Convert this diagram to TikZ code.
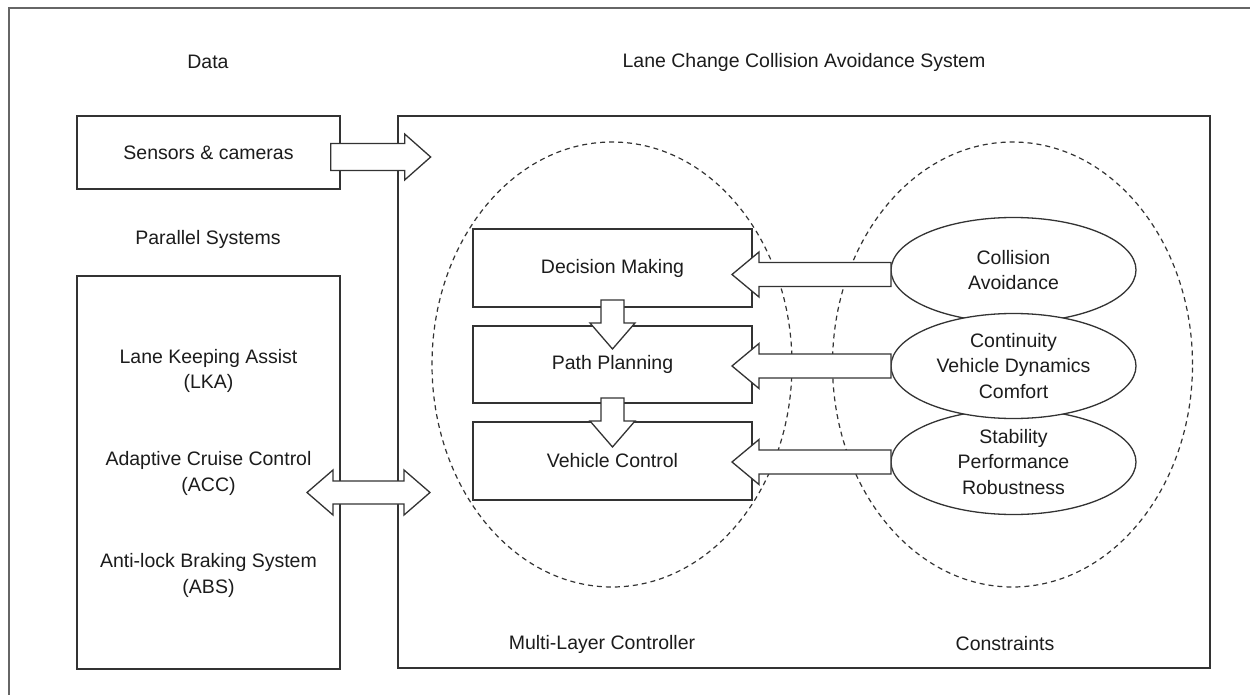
\documentclass[tikz,border=0pt]{standalone}
\usepackage{fontspec}
\setmainfont{Liberation Sans}
\usetikzlibrary{shapes.geometric}
\definecolor{ln}{HTML}{333333}
\definecolor{fr}{HTML}{666666}
\definecolor{tx}{HTML}{1c1c1c}
\begin{document}
\begin{tikzpicture}[x=1pt,y=-1pt,
  every node/.style={text=tx,font=\fontsize{19.5}{25.5}\selectfont},
  lbl/.style={inner sep=0pt,align=center},
  boxs/.style={draw=ln,line width=1.3pt,fill=white,inner sep=0pt,align=center},
  ell/.style={draw=ln,line width=1.3pt,fill=white,ellipse,inner sep=0pt,align=center,minimum width=245pt,minimum height=105pt},
  dell/.style={draw=ln,line width=1.2pt,dash pattern=on 5pt off 4pt,ellipse,inner sep=0pt},
  barrow/.style={draw=ln,line width=1.3pt,fill=white,line join=miter}
]
\useasboundingbox (0,0) rectangle (1250,695);
\fill[white] (0,0) rectangle (1250,695);
% outer frame (cropped)
\draw[fr,line width=1.3pt] (9,700) -- (9,8) -- (1260,8);

% titles
\node[lbl] (tdata) at (208,62) {Data};
\node[lbl] (tlcc) at (804,62) {Lane Change Collision Avoidance System};
\node[lbl] (tpar) at (208,239) {Parallel Systems};

% main boxes
\node[boxs,minimum width=263pt,minimum height=73pt] (sens) at (208.5,152.5) {Sensors \& cameras};
\node[boxs,minimum width=263pt,minimum height=393pt] (par) at (208.5,472.5) {};
\node[draw=ln,line width=1.3pt,inner sep=0pt,minimum width=812pt,minimum height=552pt] (lcc) at (804,392) {};

\node[lbl] (lka) at (208.5,371) {Lane Keeping Assist\\(LKA)};
\node[lbl] (acc) at (208.5,473.5) {Adaptive Cruise Control\\(ACC)};
\node[lbl] (abs) at (208.5,575.5) {Anti-lock Braking System\\(ABS)};

% dashed groups
\node[dell,minimum width=360pt,minimum height=445pt] (mlc) at (612,364.5) {};
\node[dell,minimum width=360pt,minimum height=445pt] (con) at (1012.5,364.5) {};
\node[lbl] (tmlc) at (602,644) {Multi-Layer Controller};
\node[lbl] (tcon) at (1005,644) {Constraints};

% controller layers
\node[boxs,minimum width=279pt,minimum height=78pt] (dm) at (612.5,268) {Decision Making};
\node[boxs,minimum width=279pt,minimum height=77pt] (pp) at (612.5,364.5) {Path Planning};
\node[boxs,minimum width=279pt,minimum height=78pt] (vc) at (612.5,461) {Vehicle Control};

% constraints
\node[ell] (c1) at (1013.5,270) {Collision\\Avoidance};
\node[ell] (c3) at (1013.5,462) {Stability\\Performance\\Robustness};
\node[ell] (c2) at (1013.5,366) {Continuity\\Vehicle Dynamics\\Comfort};

% data arrow
\coordinate (s1) at ([yshift=-4.5pt]sens.east);
\draw[barrow] (s1) ++(-10,-13.5) -- ++(74,0) -- ++(0,-9.5) -- ++(26,23) -- ++(-26,23) -- ++(0,-9.5) -- ++(-74,0) -- cycle;

% double arrow
\coordinate (d1) at (307,492.5);
\draw[barrow] (d1) -- ++(26,-22.5) -- ++(0,11) -- ++(71,0) -- ++(0,-11) -- ++(26,22.5) -- ++(-26,22.5) -- ++(0,-11) -- ++(-71,0) -- ++(0,11) -- cycle;

% constraint arrows
\foreach \c/\y in {c1/274.5,c2/366,c3/462}{
  \coordinate (e) at (891,\y);
  \draw[barrow] (e) ++(0,-12) -- ++(-132,0) -- ++(0,-10.5) -- ++(-27,22.5) -- ++(27,22.5) -- ++(0,-10.5) -- ++(132,0) -- cycle;
}

% layer arrows
\coordinate (v1) at (612.5,300);
\coordinate (v2) at (612.5,398);
\foreach \v in {v1,v2}{
  \draw[barrow] (\v) ++(-11.5,0) -- ++(23,0) -- ++(0,23) -- ++(11,0) -- ++(-22.5,26) -- ++(-22.5,-26) -- ++(11,0) -- cycle;
}
\end{tikzpicture}
\end{document}
